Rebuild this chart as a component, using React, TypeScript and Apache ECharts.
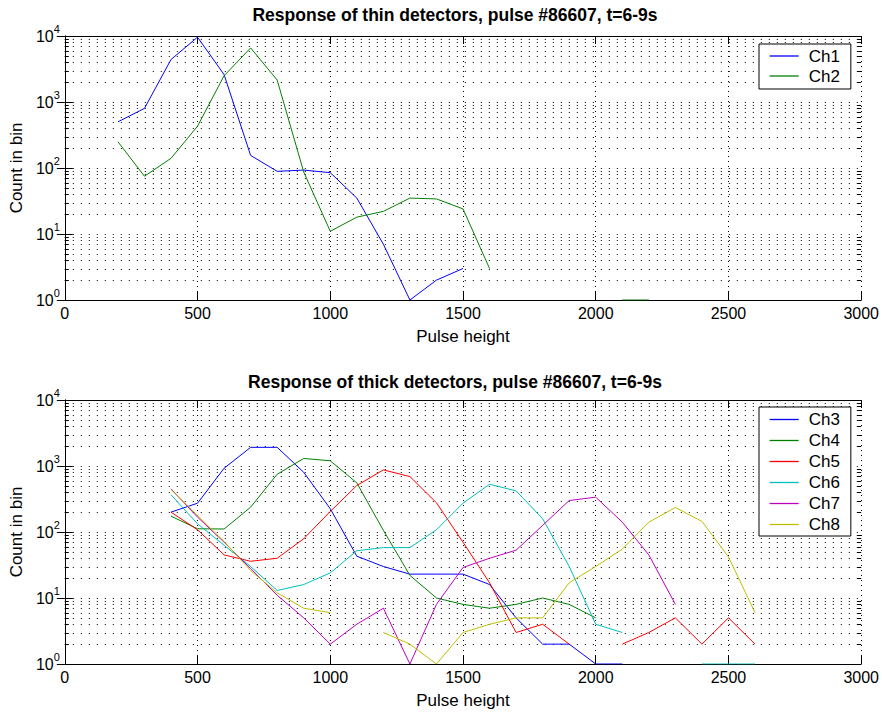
import React, { useEffect, useRef } from 'react';
import * as echarts from 'echarts';

// ---- data ----
const thinBins = [200, 300, 400, 500, 600, 700, 800, 900, 1000, 1100, 1200, 1300, 1400, 1500, 1600, 1700, 1800, 1900, 2000, 2100, 2200];
const ch1 = [500, 800, 4400, 9600, 2600, 155, 89, 93, 85, 35, 7, 1, 2, 3, null, null, null, null, null, null, null];
const ch2 = [250, 75, 140, 430, 2500, 6600, 2150, 87, 11, 18, 22, 35, 34, 24, 3, null, null, null, null, 1, 1];

const thickBins = [400, 500, 600, 700, 800, 900, 1000, 1100, 1200, 1300, 1400, 1500, 1600, 1700, 1800, 1900, 2000, 2100, 2200, 2300, 2400, 2500, 2600];
const ch3 = [200, 273, 923, 1918, 1918, 803, 225, 43, 30, 23, 23, 23, 16, 5, 2, 2, 1, 1, null, null, null, null, null];
const ch4 = [174, 112, 111, 238, 750, 1300, 1200, 555, 106, 22, 10, 8, 7, 8, 10, 8, 5, null, null, null, null, null, null];
const ch5 = [200, 108, 45, 36, 40, 79, 205, 506, 873, 692, 277, 70, 17, 3, 4, 2, null, 2, 3, 5, 2, 5, 2];
const ch6 = [366, 133, 63, 30, 13, 16, 24, 52, 58, 58, 108, 273, 529, 420, 159, 30, 4, 3, null, null, 1, 1, 1];
const ch7 = [451, 168, 70, 28, 11, 5, 2, 4, 7, 1, 8, 29, 40, 53, 126, 300, 337, 141, 45, 8, null, null, null];
const ch8 = [440, 178, 72, 26, 12, 7, 6, null, 3, 2, 1, 3, 4, 5, 5, 17, 30, 55, 141, 235, 145, 42, 6];

const thinNames = ['Ch1', 'Ch2'];
const thickNames = ['Ch3', 'Ch4', 'Ch5', 'Ch6', 'Ch7', 'Ch8'];
const thinValues = [ch1, ch2];
const thickValues = [ch3, ch4, ch5, ch6, ch7, ch8];

const titles = [
  'Response of thin detectors, pulse #86607, t=6-9s',
  'Response of thick detectors, pulse #86607, t=6-9s',
];
const xLabel = 'Pulse height';
const yLabel = 'Count in bin';
const xTicks = [0, 500, 1000, 1500, 2000, 2500, 3000];
const yDecades = [1, 10, 100, 1000, 10000];
const minorMultipliers = [2, 3, 4, 5, 6, 7, 8, 9];

// ---- styles ----
const COLORS: Record<string, string> = {
  Ch1: '#0000FF', Ch2: '#008000',
  Ch3: '#0000FF', Ch4: '#008000', Ch5: '#FF0000', Ch6: '#00BFBF', Ch7: '#BF00BF', Ch8: '#BFBF00',
};
const FONT = "'Liberation Sans', Arial, Helvetica, sans-serif";

const GRIDS = [
  { left: 64, top: 36, width: 798, height: 264 },
  { left: 64, top: 400, width: 798, height: 264 },
];

function buildOption() {
  const minorValues: number[] = [];
  yDecades.slice(0, -1).forEach((d) => minorMultipliers.forEach((m) => minorValues.push(d * m)));

  const xAxes: any[] = [];
  const yAxes: any[] = [];
  GRIDS.forEach((_, gi) => {
    xAxes.push({
      type: 'value', gridIndex: gi, position: 'bottom', min: xTicks[0], max: xTicks[xTicks.length - 1], interval: 500,
      name: xLabel, nameLocation: 'middle', nameGap: 28,
      nameTextStyle: { fontFamily: FONT, fontSize: 17, color: '#000' },
      axisLine: { show: true, lineStyle: { color: '#000', width: 1 } },
      axisTick: { show: true, inside: true, length: 8, lineStyle: { color: '#000' } },
      axisLabel: { show: true, fontFamily: FONT, fontSize: 16, color: '#000', margin: 5, formatter: (v: number) => String(v) },
      splitLine: { show: true, lineStyle: { color: '#000', width: 1, type: [1, 4] } },
    });
    xAxes.push({
      type: 'value', gridIndex: gi, position: 'top', min: xTicks[0], max: xTicks[xTicks.length - 1], interval: 500,
      axisLine: { show: true, lineStyle: { color: '#000', width: 1 } },
      axisTick: { show: true, inside: true, length: 8, lineStyle: { color: '#000' } },
      axisLabel: { show: false },
      splitLine: { show: false },
    });
    yAxes.push({
      type: 'log', logBase: 10, gridIndex: gi, position: 'left', min: yDecades[0], max: yDecades[yDecades.length - 1], splitNumber: 4,
      name: yLabel, nameLocation: 'middle', nameGap: 37,
      nameTextStyle: { fontFamily: FONT, fontSize: 17, color: '#000' },
      axisLine: { show: true, lineStyle: { color: '#000', width: 1 } },
      axisTick: { show: true, inside: true, length: 8, lineStyle: { color: '#000' } },
      axisLabel: {
        show: true, margin: 5,
        formatter: (v: number) => `{b|10}{s|${Math.round(Math.log10(v))}}`,
        rich: {
          b: { fontFamily: FONT, fontSize: 16, color: '#000', lineHeight: 26, verticalAlign: 'middle' },
          s: { fontFamily: FONT, fontSize: 11, color: '#000', lineHeight: 12, verticalAlign: 'top' },
        },
      },
      splitLine: { show: true, lineStyle: { color: '#000', width: 1, type: [1, 7] } },
    });
    yAxes.push({
      type: 'log', logBase: 10, gridIndex: gi, position: 'right', min: yDecades[0], max: yDecades[yDecades.length - 1], splitNumber: 4,
      axisLine: { show: true, lineStyle: { color: '#000', width: 1 } },
      axisTick: { show: true, inside: true, length: 8, lineStyle: { color: '#000' } },
      axisLabel: { show: false },
      splitLine: { show: false },
    });
  });

  const series: any[] = [];
  GRIDS.forEach((_, gi) => {
    series.push({
      type: 'custom', xAxisIndex: gi * 2, yAxisIndex: gi * 2, silent: true, z: 1,
      data: minorValues.map((v) => [0, v]),
      renderItem: (params: any, api: any) => {
        const cs = params.coordSys;
        const p = api.coord([0, api.value(1)]);
        const y = Math.round(p[1]) + 0.5;
        return {
          type: 'group',
          children: [
            { type: 'line', shape: { x1: cs.x, y1: y, x2: cs.x + cs.width, y2: y }, style: { stroke: '#000', lineWidth: 1, lineDash: [1, 7] } },
            { type: 'line', shape: { x1: cs.x, y1: y, x2: cs.x + 4, y2: y }, style: { stroke: '#000', lineWidth: 1 } },
            { type: 'line', shape: { x1: cs.x + cs.width - 4, y1: y, x2: cs.x + cs.width, y2: y }, style: { stroke: '#000', lineWidth: 1 } },
          ],
        };
      },
    });
  });

  const addLines = (names: string[], values: (number | null)[][], bins: number[], gi: number) => {
    names.forEach((name, i) => {
      series.push({
        type: 'line', name, xAxisIndex: gi * 2, yAxisIndex: gi * 2, z: 3,
        data: bins.map((x, j) => [x, values[i][j]]),
        symbol: 'none', connectNulls: false,
        lineStyle: { color: COLORS[name], width: 1 },
        itemStyle: { color: COLORS[name] },
      });
    });
  };
  addLines(thinNames, thinValues, thinBins, 0);
  addLines(thickNames, thickValues, thickBins, 1);

  const legendBase = {
    orient: 'vertical', left: 759, borderColor: '#000', borderWidth: 1, backgroundColor: '#fff',
    itemWidth: 29, itemHeight: 14, itemGap: 0, selectedMode: false,
    itemStyle: { opacity: 0 },
    lineStyle: { width: 1.3 },
  };

  return {
    animation: false,
    backgroundColor: '#fff',
    grid: GRIDS.map((g) => ({ ...g, containLabel: false })),
    xAxis: xAxes,
    yAxis: yAxes,
    legend: [
      {
        ...legendBase, top: 44, data: thinNames, padding: [2, 11, 3, 10],
        textStyle: { fontFamily: FONT, fontSize: 17, color: '#000', lineHeight: 20, padding: [0, 0, 0, 5] },
      },
      {
        ...legendBase, top: 407, data: thickNames, padding: [2, 11, 1, 10],
        textStyle: { fontFamily: FONT, fontSize: 17, color: '#000', lineHeight: 21, padding: [0, 0, 0, 5] },
      },
    ],
    graphic: titles.map((t, i) => ({
      type: 'text', x: 455, y: i === 0 ? 15 : 382,
      style: {
        text: t, fill: '#000', fontFamily: FONT, fontSize: 17.5, fontWeight: 'bold',
        align: 'center', verticalAlign: 'middle', textAlign: 'center', textVerticalAlign: 'middle',
      },
    })),
    series,
  };
}

export default function App() {
  const ref = useRef<HTMLDivElement>(null);
  useEffect(() => {
    if (!ref.current) return;
    const chart = echarts.init(ref.current, null, { renderer: 'svg' });
    chart.setOption(buildOption() as any);
    return () => chart.dispose();
  }, []);
  return (
    <div
      ref={ref}
      style={{ position: 'fixed', left: 0, top: 0, width: 882, height: 713, background: '#fff' }}
    />
  );
}
